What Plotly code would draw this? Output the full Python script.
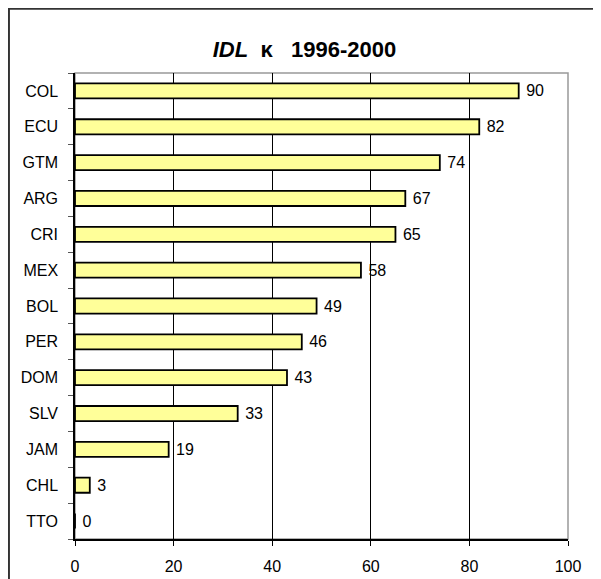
import plotly.graph_objects as go

countries = ["COL", "ECU", "GTM", "ARG", "CRI", "MEX", "BOL", "PER", "DOM", "SLV", "JAM", "CHL", "TTO"]
values = [90, 82, 74, 67, 65, 58, 49, 46, 43, 33, 19, 3, 0]
x_ticks = [0, 20, 40, 60, 80, 100]

fig = go.Figure(
    go.Bar(
        y=countries,
        x=values,
        orientation="h",
        width=0.42,
        marker=dict(color="#FFFF99", line=dict(color="#000000", width=1.8)),
        text=values,
        texttemplate=" %{x}",
        textposition="outside",
        constraintext="none",
        textfont=dict(size=16, color="#000000"),
        cliponaxis=False,
    )
)

# the page body adds 8px around the figure, so the figure is 8px smaller
fig.update_layout(
    width=593,
    height=571,
    paper_bgcolor="#FFFFFF",
    plot_bgcolor="#FFFFFF",
    font=dict(family="Liberation Sans, Arial, sans-serif", size=16, color="#000000"),
    title=dict(
        text="<b><i>IDL</i>  κ   1996-2000</b>",
        x=0.5,
        xanchor="center",
        y=0.928,
        yanchor="middle",
        font=dict(size=22, color="#000000"),
    ),
    margin=dict(l=67, r=33, t=65, b=40),
    showlegend=False,
    xaxis=dict(
        range=[0, 100],
        tickvals=x_ticks,
        showgrid=True,
        gridcolor="#000000",
        gridwidth=1,
        showline=True,
        linecolor="#000000",
        linewidth=1.5,
        ticks="outside",
        ticklen=5,
        tickcolor="#000000",
        zeroline=False,
        tickfont=dict(size=16),
        ticklabelstandoff=7,
        automargin=False,
    ),
    yaxis=dict(
        categoryorder="array",
        categoryarray=countries[::-1],
        range=[-0.5, 12.5],
        showgrid=False,
        showline=True,
        linecolor="#000000",
        linewidth=1.5,
        ticks="outside",
        tickson="boundaries",
        ticklen=5,
        tickcolor="#555555",
        tickfont=dict(size=16),
        ticklabelstandoff=12,
        automargin=False,
    ),
    shapes=[
        dict(
            type="rect", xref="paper", yref="paper",
            x0=0, x1=1, y0=0, y1=1,
            line=dict(color="#999999", width=1.5),
            layer="below",
        ),
        dict(
            type="rect", xref="paper", yref="paper",
            x0=-0.134, x1=1.2, y0=-0.2, y1=1.138,
            line=dict(color="#333333", width=2),
            layer="below",
        ),
    ],
)

fig.write_html("out.html")
